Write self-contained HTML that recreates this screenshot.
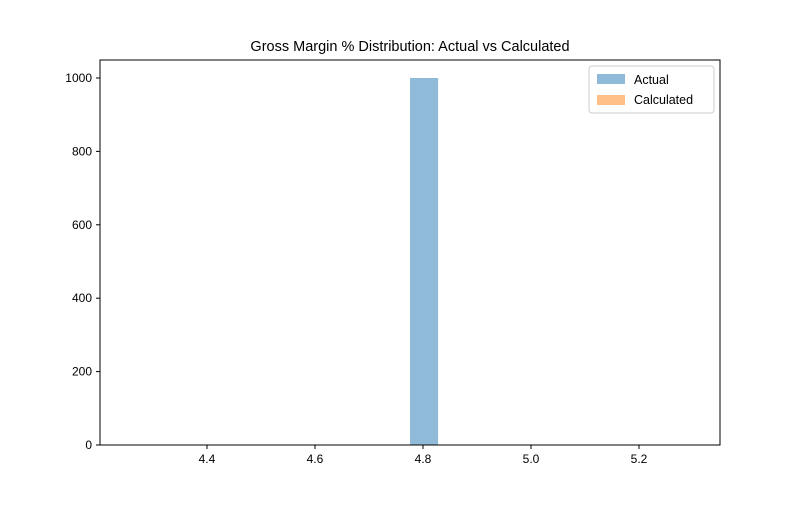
<!DOCTYPE html>
<html><head><meta charset="utf-8"><style>
body{margin:0;background:#fff;}
svg text{font-family:"Liberation Sans","DejaVu Sans",sans-serif;}
</style></head><body>
<svg id="chart" width="800" height="500" xmlns="http://www.w3.org/2000/svg">
<rect width="800" height="500" fill="#fff"/>
<text x="410" y="51" text-anchor="middle" font-size="14.5">Gross Margin % Distribution: Actual vs Calculated</text>
<g id="marks"></g>
<g id="axes"></g>
<g>
<rect x="589" y="66" width="125" height="47" fill="#fff" stroke="#ccc" rx="3"/>
<rect x="597" y="74" width="28" height="10" fill="#1f77b4" fill-opacity="0.5"/>
<text x="634" y="84" font-size="12.5">Actual</text>
<rect x="597" y="95" width="28" height="10" fill="#ff7f0e" fill-opacity="0.5"/>
<text x="634" y="104" font-size="12.5">Calculated</text>
</g>
</svg>
<script>
const xTicks=[4.4,4.6,4.8,5.0,5.2];
const yTicks=[0,200,400,600,800,1000];
const actualBinStarts=[4.776];
const actualBinEnds=[4.828];
const actualCounts=[1000];
const calcBinStarts=[];
const calcBinEnds=[];
const calcCounts=[];
const X0=100,X1=720,Y0=445,Y1=60;
const xMin=4.2019,xMax=5.35,yMin=0,yMax=1049;
function sx(v){return X0+(v-xMin)/(xMax-xMin)*(X1-X0);}
function sy(v){return Y0-(v-yMin)/(yMax-yMin)*(Y0-Y1);}
const NS="http://www.w3.org/2000/svg";
const marks=document.getElementById('marks'),axes=document.getElementById('axes');
function mk(t,a,p){const e=document.createElementNS(NS,t);for(const k in a)e.setAttribute(k,a[k]);p.appendChild(e);return e;}
actualCounts.forEach((c,i)=>{
 const r=mk('rect',{x:sx(actualBinStarts[i]),y:sy(c),width:sx(actualBinEnds[i])-sx(actualBinStarts[i]),height:sy(0)-sy(c),fill:'#1f77b4','fill-opacity':0.5},marks);
 
 
});
calcCounts.forEach((c,i)=>{
 const r=mk('rect',{x:sx(calcBinStarts[i]),y:sy(c),width:sx(calcBinEnds[i])-sx(calcBinStarts[i]),height:sy(0)-sy(c),fill:'#ff7f0e','fill-opacity':0.5},marks);
 
 
});
const frame=mk('rect',{x:X0,y:Y1,width:X1-X0,height:Y0-Y1,fill:'none',stroke:'#000','stroke-width':1},axes);


xTicks.forEach(v=>{
 const x=sx(v);
 mk('line',{x1:x,x2:x,y1:Y0,y2:Y0+4,stroke:'#000'},axes);
 const t=mk('text',{x:x,y:Y0+18,'text-anchor':'middle','font-size':12},axes);
 t.textContent=v.toFixed(1);
 
 
});
yTicks.forEach(v=>{
 const y=sy(v);
 mk('line',{x1:X0-4,x2:X0,y1:y,y2:y,stroke:'#000'},axes);
 const t=mk('text',{x:X0-8,y:y+4,'text-anchor':'end','font-size':12},axes);
 t.textContent=v;
 
 
});
</script>
</body></html>
